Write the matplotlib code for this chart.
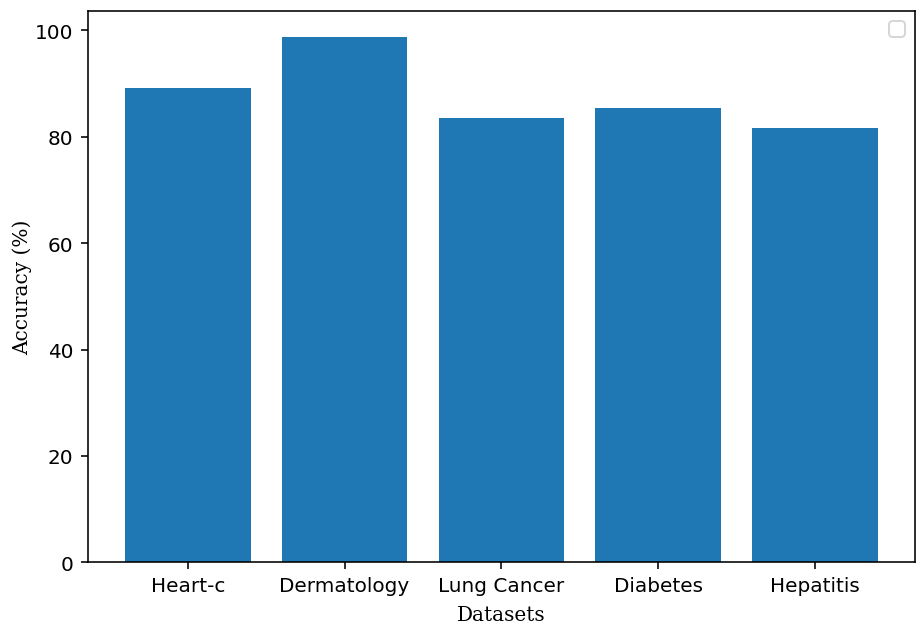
import matplotlib
matplotlib.use('Agg')
from matplotlib import pyplot as plt

datasets = ['Heart-c', 'Dermatology', 'Lung Cancer', 'Diabetes', 'Hepatitis']
accuracy = [89.2, 98.7, 83.5, 85.4, 81.6]

fig, ax = plt.subplots(figsize=(6.4, 4.36), dpi=144)
fig.subplots_adjust(left=0.095, right=0.993, top=0.981, bottom=0.103)

ax.bar(datasets, accuracy, color='#1f77b4')
ax.set_xlabel('Datasets', family='DejaVu Serif', labelpad=5)
ax.set_ylabel('Accuracy (%)', family='DejaVu Serif', labelpad=1.5)
ax.legend(handles=[], loc='upper right')

fig.savefig('out.png', dpi=144)
